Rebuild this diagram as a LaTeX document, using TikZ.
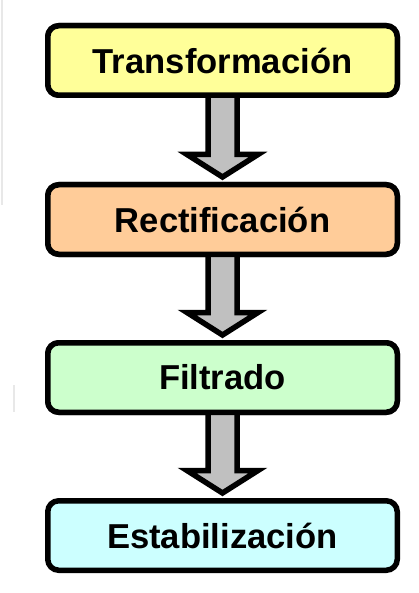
\documentclass[tikz,border=0pt]{standalone}
\usepackage{fontspec}
\setmainfont{Liberation Sans}
\usetikzlibrary{calc}
\definecolor{cyel}{HTML}{FFFF99}
\definecolor{corange}{HTML}{FFCC99}
\definecolor{cgreen}{HTML}{CCFFCC}
\definecolor{ccyan}{HTML}{CCFFFF}
\definecolor{agray}{HTML}{C0C0C0}
\definecolor{faint}{HTML}{E8E8E8}
\begin{document}
\begin{tikzpicture}[x=1pt,y=-1pt,
  stagebox/.style={draw=black, line width=5.5pt, rounded corners=11pt,
    minimum width=349.5pt, minimum height=69.5pt, inner sep=0pt,
    font=\fontsize{34.6}{40}\selectfont\bfseries},
  blockarrow/.style={draw=black, line width=5.5pt, fill=agray, line join=miter},
  artefact/.style={draw=faint, line width=2pt}]
\useasboundingbox (0,0) rectangle (419,593);
% faint edge artefacts
\draw[artefact] (1.5,0) -- (1.5,205);
\draw[artefact] (13.5,385) -- (13.5,412);
\path (222.5,60.5) coordinate (p1) (222.5,219.5) coordinate (p2)
      (222.5,377.5) coordinate (p3) (222.5,535.5) coordinate (p4);
\node[stagebox, fill=cyel] (t) at (p1) {Transformación};
\node[stagebox, fill=corange] (r) at (p2) {Rectificación};
\node[stagebox, fill=cgreen] (f) at (p3) {Filtrado};
\node[stagebox, fill=ccyan] (e) at (p4) {Estabilización};
% block arrows between the stages
\foreach \a/\b in {t/r, r/f, f/e}{
  \draw[blockarrow]
    ($(\a.south)+(-14.5,-4)$) -- ($(\b.north)+(-14.5,-27.5)$)
    -- ($(\b.north)+(-35.5,-27.5)$) -- ($(\b.north)+(0,-5)$)
    -- ($(\b.north)+(35.5,-27.5)$) -- ($(\b.north)+(14.5,-27.5)$)
    -- ($(\a.south)+(14.5,-4)$) -- cycle;
}
% redraw upper boxes over the arrow tops
\node[stagebox, fill=cyel] at (p1) {Transformación};
\node[stagebox, fill=corange] at (p2) {Rectificación};
\node[stagebox, fill=cgreen] at (p3) {Filtrado};
\end{tikzpicture}
\end{document}
